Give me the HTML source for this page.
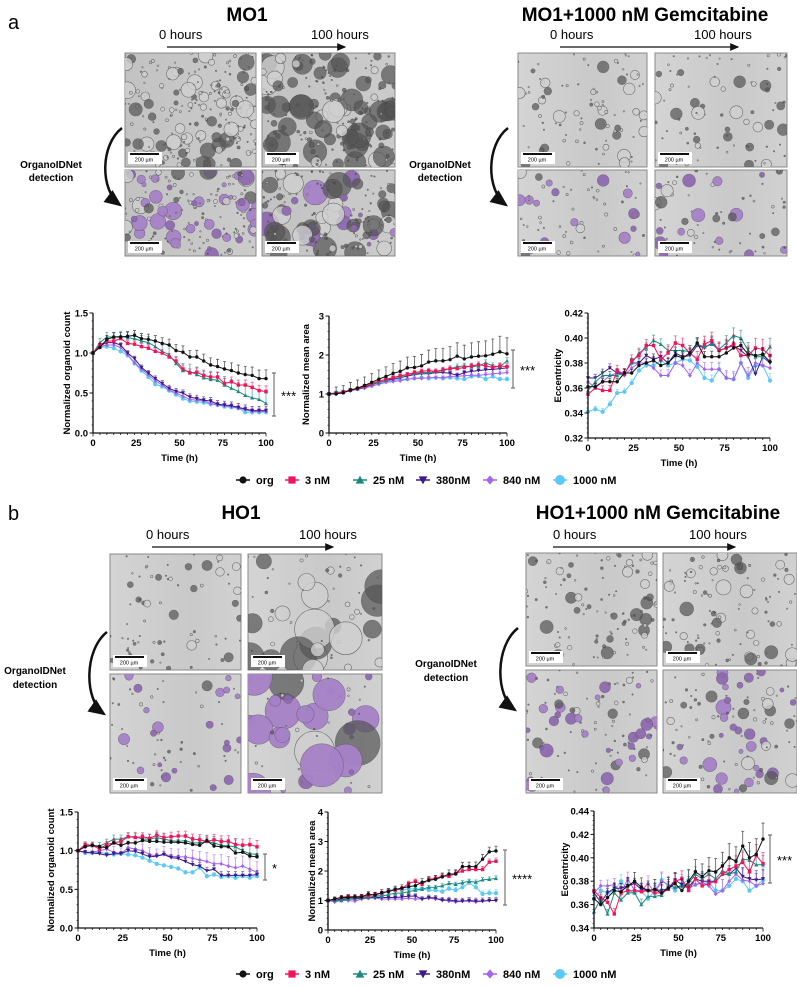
<!DOCTYPE html>
<html><head><meta charset="utf-8"><style>
body{margin:0;background:#fff;}
svg{display:block;font-family:"Liberation Sans",Arial,sans-serif;}
</style></head><body>
<svg id="fig" width="797" height="987" viewBox="0 0 797 987" xmlns="http://www.w3.org/2000/svg">
<defs>
<marker id="ah" markerWidth="8" markerHeight="8" refX="6" refY="3" orient="auto"><path d="M0,0 L7,3 L0,6 z" fill="#111"/></marker>
<linearGradient id="bg1" x1="0" x2="1"><stop offset="0" stop-color="#c2c2c2"/><stop offset="1" stop-color="#cbcbcb"/></linearGradient>
<linearGradient id="bg2" x1="0" x2="1"><stop offset="0" stop-color="#d4d4d4"/><stop offset="0.6" stop-color="#c9c9c9"/><stop offset="1" stop-color="#d1d1d1"/></linearGradient>
</defs>
<g id="static">
<text x="8" y="29" font-size="20">a</text>
<text x="247" y="21" font-size="19" font-weight="bold" text-anchor="middle">MO1</text>
<text x="645" y="21" font-size="19" font-weight="bold" text-anchor="middle">MO1+1000 nM Gemcitabine</text>
<text x="159" y="39" font-size="13">0 hours</text>
<text x="311" y="39" font-size="13">100 hours</text>
<line x1="167" y1="47" x2="345" y2="47" stroke="#111" stroke-width="1.3" marker-end="url(#ah)"/>
<text x="550" y="39" font-size="13">0 hours</text>
<text x="694" y="39" font-size="13">100 hours</text>
<line x1="560" y1="47" x2="738" y2="47" stroke="#111" stroke-width="1.3" marker-end="url(#ah)"/>
<text x="51" y="168" font-size="10" font-weight="bold" text-anchor="middle"><tspan x="51">OrganoIDNet</tspan><tspan x="51" dy="13">detection</tspan></text>
<text x="440" y="168" font-size="10" font-weight="bold" text-anchor="middle"><tspan x="440">OrganoIDNet</tspan><tspan x="440" dy="13">detection</tspan></text>
<path d="M122,128 C100,145 100,190 120,205" fill="none" stroke="#111" stroke-width="2.5" marker-end="url(#ah)"/>
<path d="M508,128 C486,145 486,190 506,205" fill="none" stroke="#111" stroke-width="2.5" marker-end="url(#ah)"/>

<text x="8" y="520" font-size="20">b</text>
<text x="241" y="519" font-size="19" font-weight="bold" text-anchor="middle">HO1</text>
<text x="658" y="519" font-size="19" font-weight="bold" text-anchor="middle">HO1+1000 nM Gemcitabine</text>
<text x="146" y="539" font-size="13">0 hours</text>
<text x="299" y="539" font-size="13">100 hours</text>
<line x1="152" y1="547" x2="333" y2="547" stroke="#111" stroke-width="1.3" marker-end="url(#ah)"/>
<text x="553" y="539" font-size="13">0 hours</text>
<text x="689" y="539" font-size="13">100 hours</text>
<line x1="553" y1="547" x2="735" y2="547" stroke="#111" stroke-width="1.3" marker-end="url(#ah)"/>
<text x="35" y="674" font-size="10" font-weight="bold" text-anchor="middle"><tspan x="35">OrganoIDNet</tspan><tspan x="35" dy="14">detection</tspan></text>
<text x="446" y="667" font-size="10" font-weight="bold" text-anchor="middle"><tspan x="446">OrganoIDNet</tspan><tspan x="446" dy="14">detection</tspan></text>
<path d="M107,632 C84,650 84,700 104,714" fill="none" stroke="#111" stroke-width="2.5" marker-end="url(#ah)"/>
<path d="M518,628 C495,646 495,696 515,710" fill="none" stroke="#111" stroke-width="2.5" marker-end="url(#ah)"/>
</g>
<g id="images"></g>
<g id="charts"></g>
<g id="legends"></g>
</svg>
<script>
// ---------- chart data ----------
const times = [0,4,8,12,16,20,24,28,32,36,40,44,48,52,56,60,64,68,72,76,80,84,88,92,96,100];
const seriesNames = ["org","3 nM","25 nM","380nM","840 nM","1000 nM"];
const xTicks = [0,25,50,75,100];

const a1Org  = [1.0,1.07,1.17,1.2,1.2,1.21,1.22,1.18,1.17,1.15,1.12,1.1,1.03,1.01,0.95,0.95,0.9,0.85,0.83,0.8,0.78,0.75,0.73,0.72,0.68,0.68];
const a1_3   = [1.0,1.1,1.15,1.15,1.18,1.12,1.11,1.08,1.06,1.02,1.0,0.95,0.9,0.8,0.75,0.76,0.72,0.7,0.7,0.62,0.64,0.6,0.6,0.57,0.53,0.52];
const a1_25  = [1.0,1.13,1.2,1.2,1.21,1.19,1.18,1.15,1.13,1.08,1.02,0.98,0.87,0.78,0.77,0.73,0.69,0.67,0.66,0.6,0.56,0.52,0.47,0.44,0.42,0.37];
const a1_380 = [1.0,1.09,1.13,1.13,1.1,1.0,0.93,0.82,0.75,0.68,0.62,0.56,0.52,0.5,0.45,0.43,0.41,0.4,0.36,0.35,0.34,0.32,0.3,0.28,0.28,0.28];
const a1_840 = [1.0,1.08,1.1,1.1,1.07,0.98,0.88,0.8,0.73,0.65,0.6,0.54,0.5,0.46,0.42,0.41,0.4,0.37,0.35,0.34,0.33,0.31,0.29,0.27,0.27,0.27];
const a1_1000= [1.0,1.07,1.08,1.06,1.02,0.97,0.87,0.78,0.7,0.61,0.58,0.53,0.48,0.43,0.4,0.39,0.38,0.36,0.35,0.33,0.32,0.31,0.26,0.26,0.26,0.26];
const a1Err  = [0.08,0.05,0.09,0.04,0.03,0.02];
const a1YTicks = ["0.0","0.5","1.0","1.5"];

const a2Org  = [1,1,1.03,1.1,1.15,1.22,1.3,1.38,1.45,1.53,1.58,1.67,1.68,1.72,1.82,1.85,1.85,1.88,1.97,1.9,1.95,1.97,1.98,2.02,2.08,2.03];
const a2_3   = [1,1.02,1.05,1.1,1.14,1.2,1.27,1.33,1.38,1.42,1.47,1.5,1.55,1.58,1.6,1.58,1.62,1.65,1.65,1.68,1.72,1.75,1.72,1.68,1.72,1.7];
const a2_25  = [1,1.03,1.05,1.1,1.13,1.2,1.25,1.3,1.35,1.42,1.45,1.5,1.52,1.55,1.55,1.57,1.6,1.65,1.7,1.72,1.7,1.72,1.8,1.72,1.7,1.85];
const a2_380 = [1,1.02,1.05,1.1,1.13,1.18,1.24,1.3,1.35,1.38,1.42,1.46,1.5,1.52,1.52,1.55,1.55,1.53,1.48,1.55,1.58,1.6,1.62,1.63,1.65,1.67];
const a2_840 = [1,1.02,1.04,1.08,1.12,1.15,1.2,1.25,1.3,1.32,1.34,1.38,1.4,1.4,1.42,1.42,1.42,1.45,1.45,1.47,1.48,1.48,1.5,1.52,1.53,1.55];
const a2_1000= [1,1.04,1.06,1.1,1.13,1.17,1.22,1.28,1.32,1.35,1.38,1.38,1.4,1.42,1.4,1.42,1.4,1.42,1.4,1.38,1.45,1.46,1.38,1.45,1.38,1.38];
const a2Err  = [0.3,0.06,0.06,0.05,0.04,0.04];
const a2YTicks = ["0","1","2","3"];

const a3Org  = [.361,.361,.365,.365,.365,.372,.372,.378,.38,.382,.378,.38,.386,.384,.388,.396,.385,.385,.385,.388,.392,.394,.387,.386,.387,.381];
const a3_3   = [.355,.36,.358,.358,.374,.371,.382,.386,.394,.394,.383,.388,.396,.394,.388,.383,.395,.398,.39,.392,.395,.386,.386,.392,.391,.386];
const a3_25  = [.358,.365,.37,.37,.37,.372,.38,.388,.392,.398,.395,.39,.39,.39,.389,.395,.393,.395,.391,.396,.402,.4,.39,.385,.385,.393];
const a3_380 = [.368,.368,.372,.376,.372,.372,.38,.38,.386,.383,.385,.38,.388,.385,.386,.394,.392,.396,.39,.392,.394,.39,.385,.371,.385,.38];
const a3_840 = [.365,.36,.365,.37,.372,.37,.376,.38,.38,.376,.37,.37,.38,.378,.37,.38,.375,.375,.375,.368,.367,.38,.37,.38,.378,.376];
const a3_1000= [.341,.343,.341,.347,.356,.357,.364,.374,.378,.378,.382,.378,.38,.383,.382,.377,.368,.366,.375,.368,.367,.38,.368,.378,.378,.366];
const a3Err  = [0.004,0.006,0.005,0.005,0.005,0.004];
const a3YTicks = ["0.32","0.34","0.36","0.38","0.40","0.42"];

const b1Org  = [1,1.05,1.07,1.05,1.04,1.1,1.07,1.1,1.1,1.13,1.12,1.12,1.11,1.11,1.11,1.1,1.08,1.07,1.13,1.06,1.05,1.05,0.97,0.98,0.93,0.92];
const b1_3   = [1,1.08,1.07,1.02,1.08,1.1,1.12,1.18,1.17,1.18,1.16,1.2,1.17,1.18,1.19,1.19,1.15,1.14,1.12,1.14,1.12,1.12,1.08,1.07,1.08,1.05];
const b1_25  = [1,1.06,1.07,1.06,1.1,1.15,1.15,1.18,1.18,1.15,1.15,1.17,1.15,1.13,1.12,1.13,1.1,1.1,1.12,1.1,1.07,1.06,1.05,1.0,0.96,0.95];
const b1_380 = [1,0.98,0.97,0.96,0.94,0.96,0.96,1.0,0.99,0.96,0.92,0.93,0.95,0.91,0.9,0.86,0.82,0.8,0.74,0.76,0.68,0.68,0.68,0.68,0.68,0.69];
const b1_840 = [1,0.98,0.98,1.0,1.02,0.98,0.96,1.04,1.02,1.0,0.95,0.93,0.96,0.93,0.92,0.92,0.9,0.88,0.86,0.83,0.83,0.8,0.78,0.8,0.76,0.72];
const b1_1000= [1,0.97,0.97,0.98,0.96,0.95,0.96,0.95,0.94,0.91,0.87,0.83,0.81,0.79,0.77,0.72,0.72,0.78,0.67,0.69,0.66,0.67,0.65,0.67,0.65,0.67];
const b1Err  = [0.03,0.06,0.07,0.04,0.1,0.02];
const b1YTicks = ["0.0","0.5","1.0","1.5"];

const b2Org  = [1,1.05,1.1,1.1,1.12,1.12,1.22,1.18,1.27,1.3,1.38,1.42,1.47,1.5,1.62,1.68,1.72,1.8,1.9,1.9,2.15,2.15,2.15,2.4,2.65,2.68];
const b2_3   = [1,1.05,1.1,1.15,1.12,1.15,1.15,1.22,1.25,1.32,1.35,1.4,1.58,1.65,1.55,1.72,1.75,1.82,1.82,1.92,2.0,2.05,2.05,2.05,2.3,2.33];
const b2_25  = [1,1.0,1.0,1.05,1.08,1.1,1.1,1.15,1.15,1.2,1.25,1.25,1.3,1.35,1.38,1.45,1.45,1.5,1.58,1.55,1.6,1.65,1.62,1.7,1.72,1.75];
const b2_380 = [1,1.0,1.05,1.05,1.05,1.08,1.1,1.1,1.1,1.1,1.1,1.12,1.15,1.15,1.05,1.1,1.08,1.0,1.02,0.98,0.98,1.0,0.98,0.98,1.0,1.0];
const b2_840 = [1,0.95,1.0,1.0,0.98,1.05,1.08,1.08,1.05,1.05,1.05,1.05,1.08,1.05,1.05,1.08,1.05,1.05,0.98,0.95,0.98,0.98,0.95,0.98,1.0,1.0];
const b2_1000= [1,1.0,1.05,1.08,1.1,1.15,1.1,1.15,1.2,1.35,1.38,1.35,1.4,1.38,1.4,1.35,1.35,1.3,1.4,1.35,1.45,1.6,1.45,1.22,1.25,1.25];
const b2Err  = [0.12,0.08,0.06,0.08,0.04,0.08];
const b2YTicks = ["0","1","2","3","4"];

const b3Org  = [.365,.36,.366,.372,.371,.376,.38,.375,.372,.373,.37,.374,.378,.372,.38,.388,.384,.389,.388,.393,.4,.397,.41,.4,.403,.416];
const b3_3   = [.372,.366,.362,.352,.37,.372,.372,.371,.372,.37,.37,.373,.38,.382,.372,.382,.376,.378,.38,.386,.39,.393,.396,.388,.402,.395];
const b3_25  = [.354,.365,.352,.37,.364,.37,.37,.36,.367,.367,.368,.376,.375,.376,.378,.386,.382,.386,.382,.389,.386,.388,.399,.398,.394,.394];
const b3_380 = [.37,.362,.37,.374,.374,.376,.378,.373,.372,.373,.372,.374,.381,.377,.375,.382,.38,.38,.38,.386,.386,.391,.384,.382,.381,.382];
const b3_840 = [.37,.376,.376,.377,.37,.382,.372,.372,.378,.37,.38,.377,.374,.376,.374,.377,.379,.376,.369,.372,.38,.386,.381,.38,.376,.378];
const b3_1000= [.365,.372,.37,.372,.38,.372,.37,.372,.365,.372,.381,.376,.372,.378,.381,.377,.378,.379,.372,.372,.376,.382,.38,.372,.376,.381];
const b3Err  = [0.01,0.007,0.006,0.006,0.008,0.008];
const b3YTicks = ["0.34","0.36","0.38","0.40","0.42","0.44"];

// ---------- drawing ----------
const NS = "http://www.w3.org/2000/svg";
const COLORS = ["#111111","#f0145a","#1a8a80","#3b1a8c","#a663f0","#5bc8f5"];
const MARKERS = ["circle","square","tri","itri","diamond","bigcircle"];
function mk(tag, attrs, parent){const e=document.createElementNS(NS,tag);for(const k in attrs)e.setAttribute(k,attrs[k]);parent.appendChild(e);return e;}

function marker(parent, type, cx, cy, color, s){
  let e;
  if(type==="circle"||type==="bigcircle"){e=mk("circle",{cx:cx,cy:cy,r:type==="bigcircle"?s*1.25:s,fill:color},parent);}
  else if(type==="square"){e=mk("rect",{x:cx-s,y:cy-s,width:2*s,height:2*s,fill:color},parent);}
  else if(type==="tri"){e=mk("polygon",{points:`${cx},${cy-s*1.2} ${cx-s*1.2},${cy+s} ${cx+s*1.2},${cy+s}`,fill:color},parent);}
  else if(type==="itri"){e=mk("polygon",{points:`${cx},${cy+s*1.2} ${cx-s*1.2},${cy-s} ${cx+s*1.2},${cy-s}`,fill:color},parent);}
  else {e=mk("polygon",{points:`${cx},${cy-s*1.3} ${cx+s*1.1},${cy} ${cx},${cy+s*1.3} ${cx-s*1.1},${cy}`,fill:color},parent);}
  return e;
}

function drawChart(c){
  const root=document.getElementById("charts");
  const g=mk("g",{},root);
  
  
  const yMin=parseFloat(c.yTicks[0]), yMax=parseFloat(c.yTicks[c.yTicks.length-1]);
  const xs=v=>c.x0+(v-0)/(100-0)*(c.x1-c.x0);
  const ys=v=>c.yb-(v-yMin)/(yMax-yMin)*(c.yb-c.yt);
  for(let si=c.series.length-1;si>=0;si--){
    const vals=c.series[si], col=COLORS[si];
    const sg=mk("g",{},g);
    
    
    times.forEach((t,i)=>{
      if(i===0) return;
      const e=c.err[si]*(0.4+0.6*i/times.length)*1.4;
      const y0=ys(vals[i]), y1=ys(vals[i]+e);
      const eb=mk("path",{d:`M${xs(t)},${y0}V${y1}M${xs(t)-1.5},${y1}H${xs(t)+1.5}`,stroke:col,"stroke-width":0.8,fill:"none",opacity:0.7},sg);
      
      
    });
    const d=times.map((t,i)=>(i?"L":"M")+xs(t).toFixed(1)+","+ys(vals[i]).toFixed(1)).join("");
    const ln=mk("path",{d:d,stroke:col,"stroke-width":1,fill:"none"},sg);
    
    
    times.forEach((t,i)=>{
      const m=marker(sg,MARKERS[si],xs(t),ys(vals[i]),col,1.7);
      
      
    });
  }
  const ax=mk("path",{d:`M${c.x0},${c.yt}V${c.yb}H${c.x1}`,stroke:"#111","stroke-width":1.3,fill:"none"},g);
  
  
  for(let v=0;v<=100;v+=4){
    mk("line",{x1:xs(v),y1:c.yb,x2:xs(v),y2:c.yb+(v%25===0?3.5:2),stroke:"#111","stroke-width":0.8},g);
  }
  xTicks.forEach(v=>{
    const t=mk("text",{x:xs(v),y:c.yb+13,"font-size":9.5,"font-weight":"bold","text-anchor":"middle"},g);
    t.textContent=v;
    
    
  });
  const nT=c.yTicks.length;
  for(let k=0;k<(nT-1)*5;k++){
    const yv=yMin+(yMax-yMin)*k/((nT-1)*5);
    mk("line",{x1:c.x0-1.5,y1:ys(yv),x2:c.x0,y2:ys(yv),stroke:"#111","stroke-width":0.6},g);
  }
  c.yTicks.forEach(lbl=>{
    const v=parseFloat(lbl);
    mk("line",{x1:c.x0-3.5,y1:ys(v),x2:c.x0,y2:ys(v),stroke:"#111","stroke-width":1},g);
    const t=mk("text",{x:c.x0-5,y:ys(v)+3.5,"font-size":9.5,"font-weight":"bold","text-anchor":"end"},g);
    t.textContent=lbl;
    
    
  });
  const xt=mk("text",{x:(c.x0+c.x1)/2,y:c.yb+28,"font-size":9.5,"font-weight":"bold","text-anchor":"middle"},g);
  xt.textContent="Time (h)";
  
  
  const ytx=c.ytX, yty=(c.yt+c.yb)/2;
  const yt=mk("text",{x:ytx,y:yty,"font-size":9.5,"font-weight":"bold","text-anchor":"middle",transform:`rotate(-90 ${ytx} ${yty})`},g);
  yt.textContent=c.yTitle;
  
  
  if(c.stars){
    const sb=mk("path",{d:`M${c.sig[0]-2},${c.sig[1]}H${c.sig[0]+2}M${c.sig[0]},${c.sig[1]}V${c.sig[2]}M${c.sig[0]-2},${c.sig[2]}H${c.sig[0]+2}`,stroke:"#777","stroke-width":1.2,fill:"none"},g);
    
    
    const st=mk("text",{x:c.sig[0]+7,y:(c.sig[1]+c.sig[2])/2+6,"font-size":13},g);
    st.textContent=c.stars;
    
    
  }
}

drawChart({name:"mo1-count-chart",x0:93,x1:266,yt:313,yb:433,yTicks:a1YTicks,series:[a1Org,a1_3,a1_25,a1_380,a1_840,a1_1000],err:a1Err,yTitle:"Normalized organoid count",ytX:70,sig:[274,373,416],stars:"***"});
drawChart({name:"mo1-area-chart",x0:329,x1:507,yt:316,yb:433,yTicks:a2YTicks,series:[a2Org,a2_3,a2_25,a2_380,a2_840,a2_1000],err:a2Err,yTitle:"Normalized mean area",ytX:309,sig:[513,350,388],stars:"***"});
drawChart({name:"mo1-eccentricity-chart",x0:588,x1:770,yt:313,yb:438,yTicks:a3YTicks,series:[a3Org,a3_3,a3_25,a3_380,a3_840,a3_1000],err:a3Err,yTitle:"Eccentricity",ytX:561,sig:[0,0,0],stars:""});
drawChart({name:"ho1-count-chart",x0:78,x1:257,yt:812,yb:928,yTicks:b1YTicks,series:[b1Org,b1_3,b1_25,b1_380,b1_840,b1_1000],err:b1Err,yTitle:"Normalized organoid count",ytX:54,sig:[265,854,880],stars:"*"});
drawChart({name:"ho1-area-chart",x0:328,x1:496,yt:812,yb:930,yTicks:b2YTicks,series:[b2Org,b2_3,b2_25,b2_380,b2_840,b2_1000],err:b2Err,yTitle:"Normalized mean area",ytX:315,sig:[505,850,905],stars:"****"});
drawChart({name:"ho1-eccentricity-chart",x0:594,x1:763,yt:811,yb:928,yTicks:b3YTicks,series:[b3Org,b3_3,b3_25,b3_380,b3_840,b3_1000],err:b3Err,yTitle:"Eccentricity",ytX:568,sig:[770,835,883],stars:"***"});

// ---------- legends ----------
function legend(y, name){
  const lg=mk("g",{},document.getElementById("legends"));
  
  
  const xs=[243,292,360,423,490,560];
  seriesNames.forEach((n,i)=>{
    const it=mk("g",{},lg);
    
    
    mk("line",{x1:xs[i]-7,y1:y,x2:xs[i]+7,y2:y,stroke:COLORS[i],"stroke-width":1.5},it);
    marker(it,MARKERS[i],xs[i],y,COLORS[i],i===5?4:3.6);
    const t=mk("text",{x:xs[i]+13,y:y+4,"font-size":11,"font-weight":"bold"},it);
    t.textContent=n;
  });
}
legend(480,"legend-a");
legend(974,"legend-b");

// ---------- microscopy thumbnails ----------
let seed=7;
function rnd(){seed=(seed*16807)%2147483647;return (seed-1)/2147483646;}
function micro(x,y,w,h,opts,name){
  const g=mk("g",{},document.getElementById("images"));
  
  
  mk("rect",{x:x,y:y,width:w,height:h,fill:opts.bg,stroke:"#888","stroke-width":1},g);
  const cp="cp"+name;
  const clip=mk("clipPath",{id:cp},g);mk("rect",{x:x,y:y,width:w,height:h},clip);
  const inner=mk("g",{"clip-path":`url(#${cp})`},g);
  const s0=seed; seed=opts.seed;
  for(let i=0;i<opts.n;i++){
    const cx=x+rnd()*w, cy=y+rnd()*h, r=0.7+Math.pow(rnd(),4)*opts.rmax;
    const dark=rnd()<opts.dark;
    mk("circle",{cx:cx,cy:cy,r:r,fill:dark?"#555":"#d0d0d0",stroke:dark?"#444":"#555","stroke-width":0.6,opacity:dark?0.7:0.8},inner);
    if(opts.purple && r>2 && rnd()<opts.purple) mk("circle",{cx:cx,cy:cy,r:r,fill:"#9a6cc4",opacity:0.75},inner);
  }
  seed=s0;
  mk("rect",{x:x+3,y:y+h-15,width:34,height:12,fill:"#fff"},g);
  mk("rect",{x:x+5,y:y+h-14,width:29,height:2,fill:"#111"},g);
  const t=mk("text",{x:x+19,y:y+h-5.5,"font-size":5.5,"text-anchor":"middle"},g);
  t.textContent="200 µm";
}
micro(125,53,131,114,{bg:"url(#bg1)",n:220,rmax:8,dark:0.35,seed:11},"mo1-0h-image");
micro(262,53,133,114,{bg:"url(#bg1)",n:220,rmax:12,dark:0.75,seed:23},"mo1-100h-image");
micro(125,170,131,86,{bg:"url(#bg1)",n:170,rmax:8,dark:0.35,seed:11,purple:0.6},"mo1-0h-detected");
micro(262,170,133,86,{bg:"url(#bg1)",n:170,rmax:12,dark:0.75,seed:23,purple:0.35},"mo1-100h-detected");
micro(518,53,129,114,{bg:"url(#bg2)",n:90,rmax:6,dark:0.3,seed:31},"mo1gem-0h-image");
micro(655,53,132,114,{bg:"url(#bg2)",n:90,rmax:6,dark:0.6,seed:41},"mo1gem-100h-image");
micro(518,170,129,86,{bg:"url(#bg2)",n:70,rmax:6,dark:0.3,seed:31,purple:0.7},"mo1gem-0h-detected");
micro(655,170,132,86,{bg:"url(#bg2)",n:70,rmax:6,dark:0.6,seed:41,purple:0.4},"mo1gem-100h-detected");
micro(110,554,131,116,{bg:"url(#bg2)",n:70,rmax:5,dark:0.5,seed:51},"ho1-0h-image");
micro(248,554,134,116,{bg:"url(#bg2)",n:60,rmax:22,dark:0.4,seed:61},"ho1-100h-image");
micro(110,674,131,119,{bg:"url(#bg2)",n:70,rmax:5,dark:0.5,seed:51,purple:0.9},"ho1-0h-detected");
micro(248,674,134,119,{bg:"url(#bg2)",n:60,rmax:22,dark:0.4,seed:61,purple:0.9},"ho1-100h-detected");
micro(526,553,131,113,{bg:"url(#bg2)",n:110,rmax:6,dark:0.5,seed:71},"ho1gem-0h-image");
micro(663,553,134,113,{bg:"url(#bg2)",n:110,rmax:7,dark:0.5,seed:81},"ho1gem-100h-image");
micro(526,670,131,123,{bg:"url(#bg2)",n:110,rmax:6,dark:0.5,seed:71,purple:0.8},"ho1gem-0h-detected");
micro(663,670,134,123,{bg:"url(#bg2)",n:110,rmax:7,dark:0.5,seed:81,purple:0.6},"ho1gem-100h-detected");
</script>
</body></html>
